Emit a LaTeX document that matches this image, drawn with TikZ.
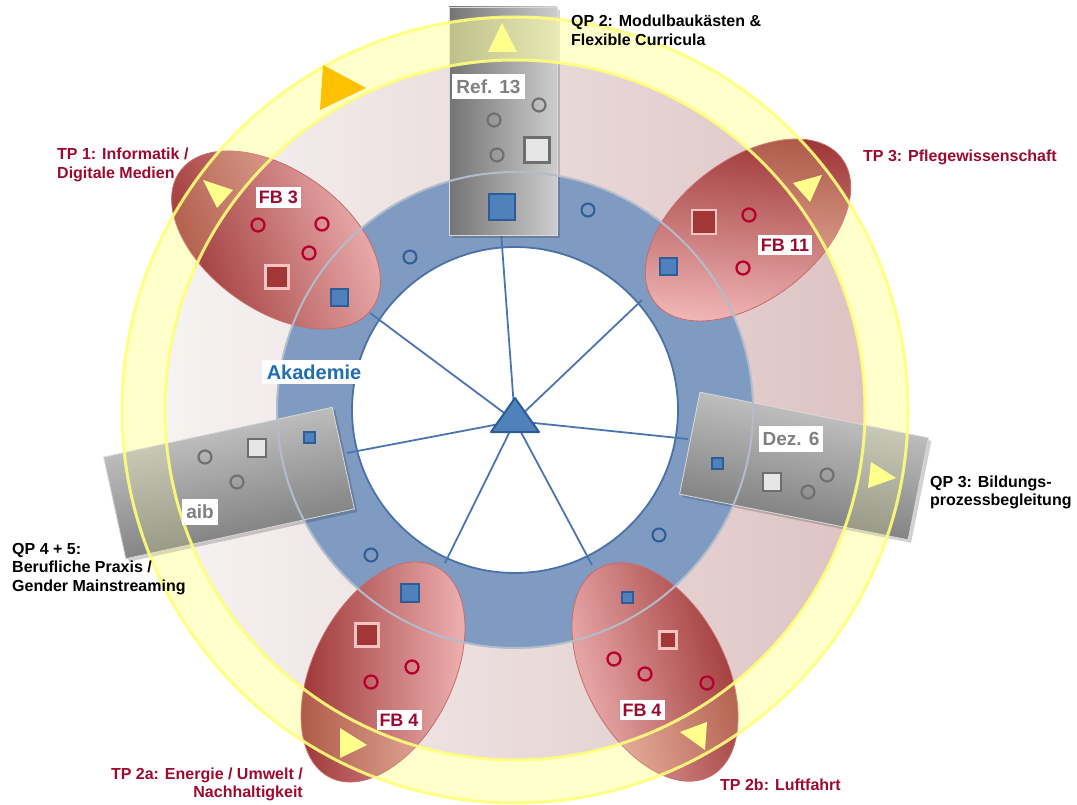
\documentclass[tikz,border=0pt]{standalone}
\usepackage{fontspec}
\setmainfont{Liberation Sans}
\usetikzlibrary{shadows,shapes.geometric}
\definecolor{maroonT}{HTML}{9C0A30}
\definecolor{ringblue}{HTML}{7F9BC2}
\definecolor{ringdark}{HTML}{4A72A8}
\definecolor{ringedge}{HTML}{B3BCCB}
\definecolor{spokec}{HTML}{4A76B0}
\definecolor{bsqfill}{HTML}{4F81BD}
\definecolor{bsqdraw}{HTML}{2E5C96}
\definecolor{ylw}{HTML}{FFFFA0}
\definecolor{ylwline}{HTML}{FFFF7A}
\definecolor{trifill}{HTML}{FFFF8C}
\definecolor{orng}{HTML}{FFC000}
\definecolor{ellD}{HTML}{9A3030}
\definecolor{ellL}{HTML}{F2B8B8}
\definecolor{ellE}{HTML}{C86A6A}
\definecolor{rsqfill}{HTML}{A33636}
\definecolor{rsqdraw}{HTML}{F4C4C4}
\definecolor{rcirc}{HTML}{B8002E}
\definecolor{gcirc}{HTML}{707070}
\definecolor{gsqfill}{HTML}{E6E6E6}
\definecolor{gsqdraw}{HTML}{6E6E6E}
\definecolor{gtext}{HTML}{808080}
\definecolor{akblue}{HTML}{1F6DB3}
\definecolor{pinkL}{HTML}{F6F3F3}
\definecolor{pinkM}{HTML}{EACFCF}
\definecolor{pinkR}{HTML}{DEC3C3}
\definecolor{greyD}{HTML}{747474}
\definecolor{greyL}{HTML}{CDCDCD}
\begin{document}
\begin{tikzpicture}[x=1pt,y=-1pt,
  lbl/.style={font=\fontsize{16}{18.5}\selectfont\bfseries, inner sep=0pt},
  bsq/.style={draw=bsqdraw, fill=bsqfill, line width=2pt, minimum size=#1, inner sep=0pt},
  rsq/.style={draw=rsqdraw, fill=rsqfill, line width=2.3pt, minimum size=#1, inner sep=0pt},
  gsq/.style={draw=gsqdraw, fill=gsqfill, line width=2.3pt, minimum size=#1, inner sep=0pt},
  rcirc/.style={circle, draw=rcirc, line width=2.3pt, minimum size=13pt, inner sep=0pt},
  gcirc/.style={circle, draw=gcirc, line width=2.2pt, minimum size=13pt, inner sep=0pt},
  bcirc/.style={circle, draw=bsqdraw, line width=2pt, minimum size=13pt, inner sep=0pt},
  fblabel/.style={fill=white, text=maroonT, font=\fontsize{18}{18}\selectfont\bfseries, inner xsep=3pt, inner ysep=4pt},
  glabel/.style={fill=white, text=gtext, font=\fontsize{19}{19}\selectfont\bfseries, inner xsep=4pt, inner ysep=6pt},
  gbox/.style={draw=white!85!black, line width=0.8pt, inner sep=0pt,
     drop shadow={shadow xshift=3pt, shadow yshift=-3pt, opacity=0.18, fill=black}},
  fbell/.style={ellipse, draw=ellE, line width=0.8pt, minimum width=236pt, minimum height=140pt,
     inner sep=0pt, top color=ellD, bottom color=ellL},
  tri/.style={fill=trifill},
]
\useasboundingbox (0,0) rectangle (1077,805);
\coordinate (C) at (515,410);
% pink disc
\shade[left color=pinkL, middle color=pinkM, right color=pinkR] (C) circle[radius=350];
% blue ring
\fill[ringblue, even odd rule] (C) circle[radius=238] (C) circle[radius=163];
\fill[white] (C) circle[radius=163];
\draw[ringdark, line width=1.8pt] (C) circle[radius=163];
% spokes
\coordinate (hub) at (515,421);
\coordinate (sT) at (501,232);
\coordinate (sUL) at (370,313);
\coordinate (sUR) at (642,300);
\coordinate (sL) at (347,453);
\coordinate (sR) at (688,439);
\coordinate (sLL) at (445,563);
\coordinate (sLR) at (592,565);
\foreach \e in {sT,sUL,sUR,sL,sR,sLL,sLR} \draw[spokec, line width=1.8pt] (hub) -- (\e);
% top grey box
\node[gbox, minimum width=108pt, minimum height=228pt, left color=greyD, right color=greyL] (ref) at (503,121) {};
% yellow band fill
\fill[ylw, opacity=0.45, even odd rule] (C) circle[radius=393] (C) circle[radius=350];
% other grey boxes
\node[gbox, rotate=12.3, minimum width=234pt, minimum height=104pt, top color=greyL, bottom color=greyD, shading angle=12.3] (aib) at (229,483) {};
\node[gbox, rotate=-11.3, minimum width=233pt, minimum height=104pt, top color=greyL, bottom color=greyD, shading angle=-11.3] (dez) at (804,466) {};
% ellipses
\node[fbell, rotate=144.6, shading angle=110] (fb3) at (276,240) {};
\node[fbell, rotate=37.7, shading angle=-5] (fb11) at (748,230) {};
\node[fbell, rotate=63.3, shading angle=90] (fb4a) at (383,672) {};
\node[fbell, rotate=-61.9, shading angle=-75] (fb4b) at (655,672) {};
% ring outer edge
\draw[ringedge, line width=2pt] (C) circle[radius=238];
% faint band tint over boxes and ellipses, band lines
\fill[ylw, opacity=0.18, even odd rule] (C) circle[radius=393] (C) circle[radius=350];
\draw[ylwline, line width=3pt, opacity=0.9] (C) circle[radius=350] (C) circle[radius=393];
% triangles on band
\fill[tri] (488,52) -- (502,23) -- (517,52) -- cycle;
\fill[orng] (323,65) -- (366,88) -- (320,110) -- cycle;
\fill[tri] (203,180) -- (233,190) -- (217,208) -- cycle;
\fill[tri] (793,183) -- (822,175) -- (810,202) -- cycle;
\fill[tri] (871,462) -- (896,478) -- (868,488) -- cycle;
\fill[tri] (680,732) -- (707,722) -- (705,750) -- cycle;
\fill[tri] (340,728) -- (367,745) -- (340,758) -- cycle;
% Ref. 13 contents
\node[glabel] (lref) at (488.5,86.5) {Ref. 13};
\node[gcirc] (rc1) at (539,105) {};
\node[gcirc] (rc2) at (494,120) {};
\node[gcirc] (rc3) at (497,155) {};
\node[gsq=25pt] (rq1) at (537,150) {};
\node[bsq=26pt] (rq2) at (502,207) {};
% aib contents
\node[glabel] (laib) at (200,512) {aib};
\node[gcirc] (ac1) at (205,457) {};
\node[gcirc] (ac2) at (237,482) {};
\node[gsq=18pt] (aq1) at (257,448) {};
\node[bsq=11pt] (aq2) at (309,437) {};
% Dez. 6 contents
\node[glabel] (ldez) at (791,439) {Dez. 6};
\node[bsq=11pt] (dq1) at (717,463) {};
\node[gsq=18pt] (dq2) at (772,482) {};
\node[gcirc] (dc1) at (827,475) {};
\node[gcirc] (dc2) at (808,492) {};
% FB 3 contents
\node[fblabel] (lfb3) at (278.5,197.5) {FB 3};
\node[rcirc] (f3c1) at (258,225) {};
\node[rcirc] (f3c2) at (322,224) {};
\node[rcirc] (f3c3) at (309,253) {};
\node[rsq=23pt] (f3q1) at (277,277) {};
\node[bsq=17pt] (f3q2) at (339,298) {};
% FB 11 contents
\node[fblabel] (lfb11) at (785,245) {FB 11};
\node[rsq=24pt] (f11q1) at (704,222) {};
\node[rcirc] (f11c1) at (749,215) {};
\node[rcirc] (f11c2) at (743,268) {};
\node[bsq=17pt] (f11q2) at (668,267) {};
% FB 4 (right) contents
\node[fblabel] (lfb4b) at (642,710) {FB 4};
\node[bsq=11pt] (f4bq1) at (627,597) {};
\node[rsq=17pt] (f4bq2) at (668,640) {};
\node[rcirc] (f4bc1) at (614,659) {};
\node[rcirc] (f4bc2) at (645,674) {};
\node[rcirc] (f4bc3) at (707,683) {};
% FB 4 (left) contents
\node[fblabel] (lfb4a) at (399,720) {FB 4};
\node[bsq=18pt] (f4aq1) at (410,593) {};
\node[rsq=23pt] (f4aq2) at (367,635) {};
\node[rcirc] (f4ac1) at (412,667) {};
\node[rcirc] (f4ac2) at (371,682) {};
% blue ring circles
\node[bcirc] (bc1) at (410,257) {};
\node[bcirc] (bc2) at (588,210) {};
\node[bcirc] (bc3) at (371,555) {};
\node[bcirc] (bc4) at (659,535) {};
% Akademie
\node[fill=white, text=akblue, font=\fontsize{20}{20}\selectfont\bfseries, inner xsep=5pt, inner ysep=5pt] (akad) at (314,372) {Akademie};
% hub triangle
\filldraw[fill=bsqfill, draw=bsqdraw, line width=2pt, line join=round] (515,398) -- (539,432) -- (491,432) -- cycle;
% outer labels
\node[lbl, anchor=base west] (tqp2) at (571,27) {\begin{tabular}[t]{@{}l@{}}QP 2: Modulbauk\"asten \&\\Flexible Curricula\end{tabular}};
\node[lbl, anchor=base west, text=maroonT] (ttp3) at (863,162) {TP 3: Pflegewissenschaft};
\node[lbl, anchor=base west, text=maroonT] (ttp1) at (57,160) {\begin{tabular}[t]{@{}l@{}}TP 1: Informatik /\\Digitale Medien\end{tabular}};
\node[lbl, anchor=base west] (tqp3) at (930,487) {\begin{tabular}[t]{@{}l@{}}QP 3: Bildungs-\\prozessbegleitung\end{tabular}};
\node[lbl, anchor=base west] (tqp45) at (12,554) {\begin{tabular}[t]{@{}l@{}}QP 4 + 5:\\Berufliche Praxis /\\Gender Mainstreaming\end{tabular}};
\node[lbl, anchor=base east, text=maroonT] (ttp2a) at (303,779) {\begin{tabular}[t]{@{}r@{}}TP 2a: Energie / Umwelt /\\Nachhaltigkeit\end{tabular}};
\node[lbl, anchor=base west, text=maroonT] (ttp2b) at (720,790) {TP 2b: Luftfahrt};
\end{tikzpicture}
\end{document}
